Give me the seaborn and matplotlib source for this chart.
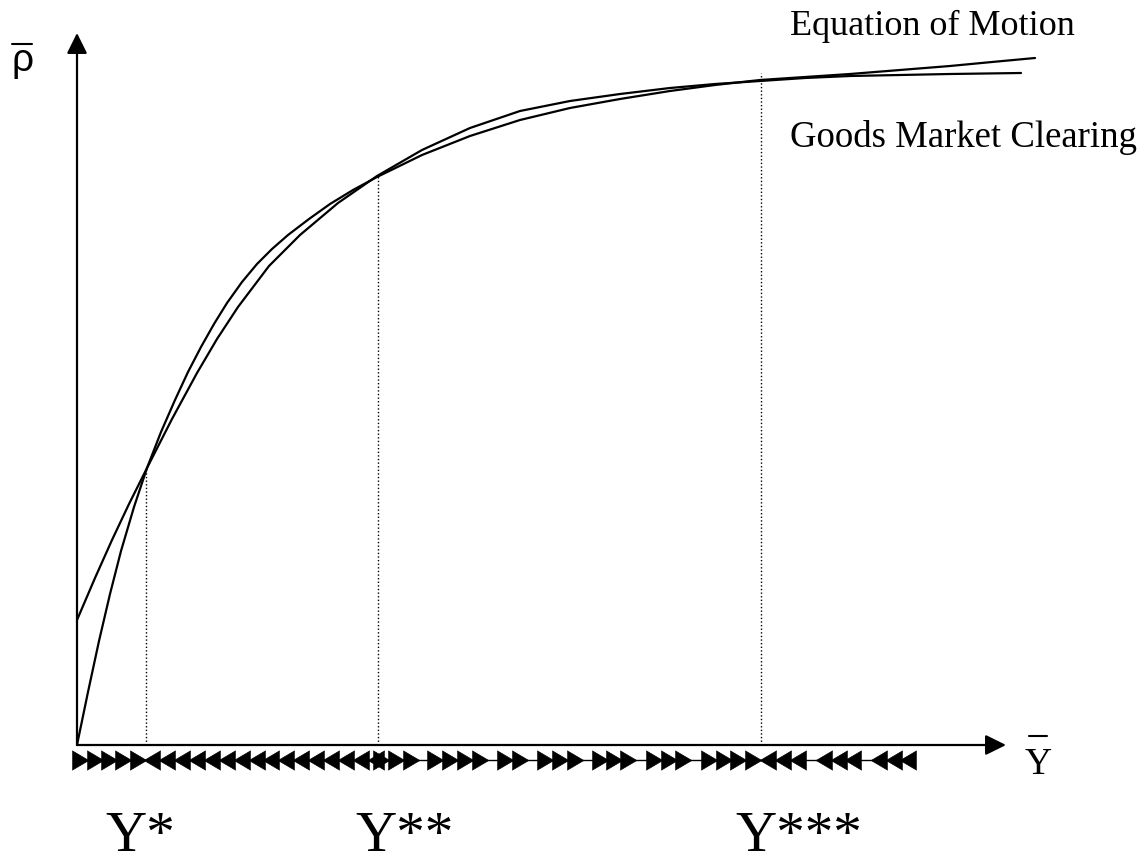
import matplotlib
matplotlib.use("Agg")
import matplotlib.pyplot as plt
import numpy as np
import pandas as pd
import seaborn as sns

# curves (x = output, y = rho bar)
motion_x = [0, 11, 22, 33, 44, 57, 70, 84, 98, 111, 124, 137, 150, 165, 180, 195, 211, 232, 253,
            276, 300, 345, 393, 443, 493, 543, 593, 638, 683, 728, 773, 823, 873, 915, 958]
motion_y = [0, 53, 104, 151, 194, 238, 277, 313, 345, 373, 398, 421, 442, 463, 481, 496, 510, 526, 541,
            555, 568, 590, 609, 625, 637, 646, 654, 660, 665, 668, 671, 675, 679, 683, 687]

goods_x = [0, 18, 35, 52, 70, 95, 120, 140, 161, 192, 223, 261, 300, 345, 393, 443, 493, 543, 593,
           638, 683, 728, 773, 823, 873, 944]
goods_y = [125, 167, 205, 241, 277, 326, 372, 406, 438, 479, 510, 542, 569, 595, 617, 634, 644, 651, 657,
           661, 664, 667, 669, 670, 671, 672]

# steady states: position and height of the dotted lines
steady_x = [69, 301, 684]
steady_y = [277, 569, 672]
steady_labels = ["Y*", "Y**", "Y***"]

# direction arrows under the axis: group start, end, count, direction
grp_start = [-4, 68, 296, 350, 420, 461, 516, 570, 625, 683, 740, 795]
grp_end = [68, 306, 341, 410, 450, 505, 558, 613, 683, 728, 783, 838]
grp_count = [5, 16, 3, 4, 2, 3, 3, 3, 4, 3, 3, 3]
grp_dir = ["r", "l", "r", "r", "r", "r", "r", "r", "r", "l", "l", "l"]

sns.set_theme(style="white")
plt.rcParams["font.family"] = ["Liberation Serif", "DejaVu Serif"]
plt.rcParams["text.color"] = "black"

fig = plt.figure(figsize=(11.43, 8.65), dpi=100)
ax = fig.add_axes([0, 0, 1, 1])
ax.set_xlim(-77, 1066)
ax.set_ylim(-120, 745)
ax.axis("off")

df = pd.concat([
    pd.DataFrame({"x": motion_x, "y": motion_y, "curve": "Equation of Motion"}),
    pd.DataFrame({"x": goods_x, "y": goods_y, "curve": "Goods Market Clearing"}),
])
sns.lineplot(data=df, x="x", y="y", units="curve", estimator=None, sort=False,
             color="black", lw=1.6, ax=ax)

# axes with arrow heads
arrow = dict(arrowstyle="-|>,head_length=1.25,head_width=0.62", lw=1.6, color="black",
             mutation_scale=10, shrinkA=0, shrinkB=0)
ax.annotate("", xy=(0, 712), xytext=(0, 0), arrowprops=arrow)
ax.annotate("", xy=(929, 0), xytext=(0, 0), arrowprops=arrow)

# dotted lines down from the crossings
for sx, sy in zip(steady_x, steady_y):
    ax.plot([sx, sx], [0, sy], color="black", lw=1, ls=(0, (1, 1.6)))

# arrows row
row_y = -15
ax.plot([-4, 838], [row_y, row_y], color="black", lw=1)
right = [(-0.85, -1), (0.85, 0), (-0.85, 1)]
left = [(0.85, -1), (-0.85, 0), (0.85, 1)]
for a, b, n, d in zip(grp_start, grp_end, grp_count, grp_dir):
    w = (b - a) / n
    xs = [a + w / 2 + i * w for i in range(n)]
    ax.plot(xs, [row_y] * n, ls="none", marker=right if d == "r" else left,
            ms=14, color="black", mec="black", mew=0.5)

# labels
for lx, lab in zip([28, 278, 658], steady_labels):
    ax.text(lx, -106, lab, fontsize=41, ha="left", va="baseline", color="black")

ax.text(713, 710, "Equation of Motion", fontsize=26, ha="left", va="baseline", color="black")
ax.text(713, 598, "Goods Market Clearing", fontsize=26.5, ha="left", va="baseline", color="black")

# Y bar
ax.text(948, -29, "Y", fontsize=27, ha="left", va="baseline", color="black")
ax.plot([952, 970], [9, 9], color="black", lw=1.5)

# rho bar
ax.text(-66, 674, "ρ", fontsize=28, ha="left", va="baseline", color="black",
        family=["Liberation Sans", "DejaVu Sans"])
ax.plot([-65, -45], [701, 701], color="black", lw=1.5)

fig.savefig("out.png", dpi=100)
